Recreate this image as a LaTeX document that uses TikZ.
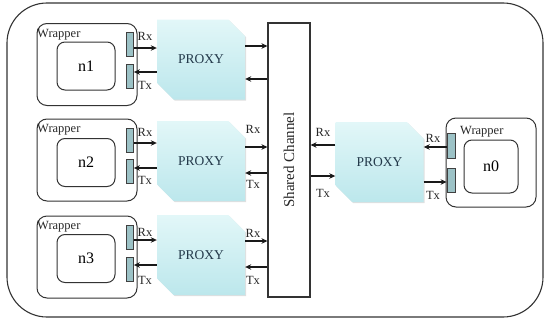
\documentclass[tikz,border=0pt]{standalone}
\usepackage{fontspec}
\setmainfont{Liberation Serif}
\usetikzlibrary{shapes.misc,arrows.meta,shadows}
\definecolor{portc}{HTML}{9CC2C6}
\definecolor{proxytop}{HTML}{E2F7F8}
\definecolor{proxybot}{HTML}{BCE7EC}
\definecolor{proxytext}{HTML}{23394A}
\begin{document}
\begin{tikzpicture}[x=1pt,y=-1pt,
  outerbox/.style={draw=black!80, line width=1.1pt, rounded corners=40pt},
  wrapbox/.style={draw=black!80, line width=1pt, rounded corners=10pt, minimum width=100pt, minimum height=82pt, inner sep=0},
  innerbox/.style={draw=black!80, line width=1pt, rounded corners=8pt, minimum width=58pt, minimum height=48pt, inner sep=0, font=\fontsize{16}{16}\selectfont},
  port/.style={draw=black!75, fill=portc, line width=0.8pt, minimum width=7pt, minimum height=24pt, inner sep=0},
  proxy/.style={chamfered rectangle, chamfered rectangle corners={north east,south west}, chamfered rectangle sep=12pt, minimum width=88pt, minimum height=80pt, inner sep=0, top color=proxytop, bottom color=proxybot, draw=none, font=\fontsize{13.5}{13.5}\selectfont, text=proxytext, drop shadow={shadow xshift=1pt, shadow yshift=-1pt, opacity=0.25}},
  arr/.style={-{Stealth[length=6pt,width=5.5pt]}, line width=1.2pt, draw=black!90},
  lbl/.style={font=\fontsize{12.5}{12.5}\selectfont, inner sep=0, text=black!85},
  wlbl/.style={font=\fontsize{12.5}{12.5}\selectfont, inner sep=0, anchor=north west, text=black!85},
  chan/.style={draw=black!80, line width=1.1pt, minimum width=42pt, minimum height=274pt, inner sep=0}
]
\useasboundingbox (0,0) rectangle (548,324);
\draw[outerbox] (7,3) rectangle (543,317);

% shared channel
\node[chan] (ch) at (289,160) {};
\node[rotate=90, font=\fontsize{15}{15}\selectfont, text=black!85] (chl) at (289,160) {Shared Channel};

% ---------- row 1 ----------
\node[wrapbox] (w1) at (87,64.5) {};
\node[wlbl] (w1l) at (37,29) {Wrapper};
\node[innerbox] (n1) at (86,66) {n1};
\node[port] (rx1) at (130,44.5) {};
\node[port] (tx1) at (130,76.5) {};
\node[proxy] (p1) at (201,59.5) {PROXY};
\node[lbl] (rx1l) at (145,36) {Rx};
\node[lbl] (tx1l) at (145,85) {Tx};
\draw[arr] (rx1.east |- 0,48) -- (p1.west |- 0,48);
\draw[arr] (p1.west |- 0,72) -- (tx1.east |- 0,72);
\draw[arr] (p1.east |- 0,46) -- (ch.west |- 0,46);
\draw[arr] (ch.west |- 0,79) -- (p1.east |- 0,79);

% ---------- row 2 ----------
\node[wrapbox] (w2) at (87,160) {};
\node[wlbl] (w2l) at (37,124) {Wrapper};
\node[innerbox] (n2) at (86,162.5) {n2};
\node[port] (rx2) at (130,140) {};
\node[port] (tx2) at (130,171.5) {};
\node[proxy] (p2) at (201,161) {PROXY};
\node[lbl] (rx2l) at (145,132) {Rx};
\node[lbl] (tx2l) at (145,180) {Tx};
\draw[arr] (rx2.east |- 0,143) -- (p2.west |- 0,143);
\draw[arr] (p2.west |- 0,168) -- (tx2.east |- 0,168);
\node[lbl] (rx2r) at (253,129) {Rx};
\node[lbl] (tx2r) at (253,184) {Tx};
\draw[arr] (p2.east |- 0,147) -- (ch.west |- 0,147);
\draw[arr] (ch.west |- 0,173) -- (p2.east |- 0,173);

% ---------- row 3 ----------
\node[wrapbox] (w3) at (87,257) {};
\node[wlbl] (w3l) at (37,221) {Wrapper};
\node[innerbox] (n3) at (86,258.5) {n3};
\node[port] (rx3) at (130,237) {};
\node[port] (tx3) at (130,269.5) {};
\node[proxy] (p3) at (201,255) {PROXY};
\node[lbl] (rx3l) at (145,232) {Rx};
\node[lbl] (tx3l) at (145,280) {Tx};
\draw[arr] (rx3.east |- 0,240) -- (p3.west |- 0,240);
\draw[arr] (p3.west |- 0,265) -- (tx3.east |- 0,265);
\node[lbl] (rx3r) at (253,233) {Rx};
\node[lbl] (tx3r) at (253,280) {Tx};
\draw[arr] (p3.east |- 0,241) -- (ch.west |- 0,241);
\draw[arr] (ch.west |- 0,267) -- (p3.east |- 0,267);

% ---------- node 0 (right) ----------
\node[proxy] (p0) at (379.5,162) {PROXY};
\node[lbl] (rx0cl) at (323,132) {Rx};
\node[lbl] (tx0cl) at (323,193) {Tx};
\draw[arr] (p0.west |- 0,145) -- (ch.east |- 0,145);
\draw[arr] (ch.east |- 0,176) -- (p0.west |- 0,176);

\node[wrapbox, minimum width=90pt, minimum height=89pt] (w0) at (491,162.5) {};
\node[wlbl] (w0l) at (460,126) {Wrapper};
\node[innerbox, minimum width=54pt, minimum height=53pt] (n0) at (491,166.5) {n0};
\node[port, minimum width=8pt, minimum height=25pt] (rx0) at (451,145.5) {};
\node[port, minimum width=8pt, minimum height=24pt] (tx0) at (451,180) {};
\node[lbl] (rx0l) at (433,138) {Rx};
\node[lbl] (tx0l) at (433,195) {Tx};
\draw[arr] (rx0.west |- 0,147) -- (p0.east |- 0,147);
\draw[arr] (p0.east |- 0,182) -- (tx0.west |- 0,182);
\end{tikzpicture}
\end{document}
